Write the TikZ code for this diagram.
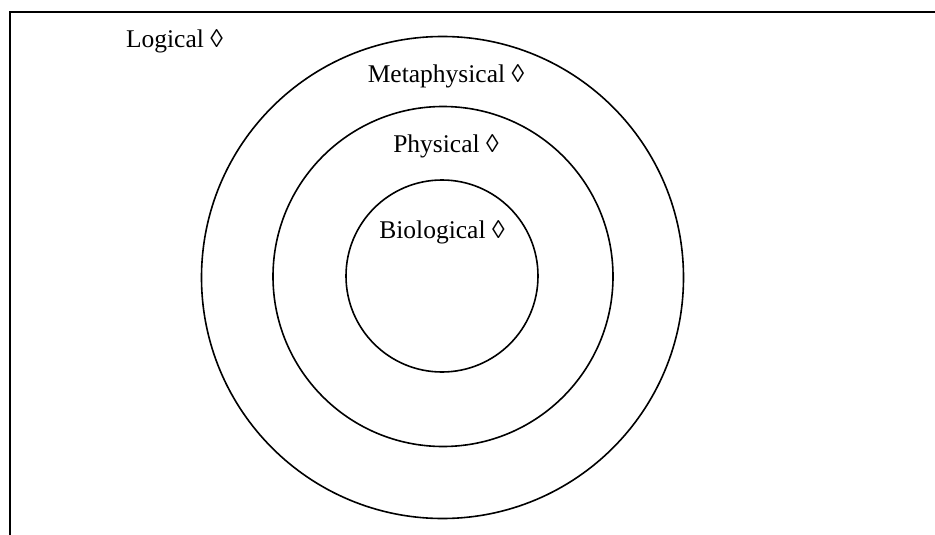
\documentclass[tikz,border=0pt]{standalone}
\usepackage{fontspec}
\setmainfont{Liberation Serif}
\begin{document}
\begin{tikzpicture}[x=1pt,y=-1pt,
  ring/.style={draw,circle,line width=1.6pt,inner sep=0pt},
  lbl/.style={font=\fontsize{25.5}{28}\selectfont,inner sep=0pt,anchor=base}]
\useasboundingbox (0,0) rectangle (935,535);
\draw[line width=1.8pt] (10,535) -- (10,12) -- (935,12);
\node[ring,minimum size=482pt] (outer) at (442.5,277.5) {};
\node[ring,minimum size=340pt] (middle) at (443,276.5) {};
\node[ring,minimum size=192pt] (inner) at (442,276) {};
\node[lbl] (logical) at (174.5,48) {Logical ◊};
\node[lbl] (meta) at (446,82) {Metaphysical ◊};
\node[lbl] (phys) at (446,152) {Physical ◊};
\node[lbl] (bio) at (442,238) {Biological ◊};
\end{tikzpicture}
\end{document}
